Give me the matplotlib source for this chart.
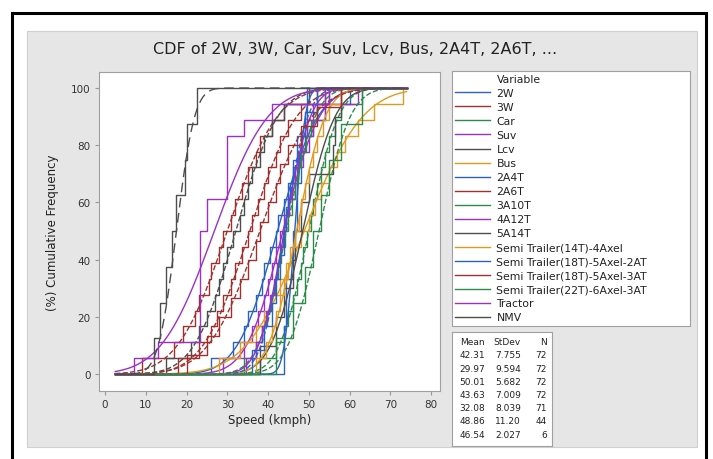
import numpy as np
import matplotlib
matplotlib.use("Agg")
import matplotlib.pyplot as plt
from matplotlib.patches import Rectangle
from math import erf, sqrt

plt.rcParams['font.family'] = ['DejaVu Sans']

variables = ["2W", "3W", "Car", "Suv", "Lcv", "Bus", "2A4T", "2A6T", "3A10T", "4A12T",
             "5A14T", "Semi Trailer(14T)-4Axel", "Semi Trailer(18T)-5Axel-2AT",
             "Semi Trailer(18T)-5Axel-3AT", "Semi Trailer(22T)-6Axel-3AT", "Tractor", "NMV"]
means = [42.31, 29.97, 50.01, 43.63, 32.08, 48.86, 46.54, 35.5, 44.5, 44.0,
         48.5, 47.0, 44.0, 38.0, 52.5, 26.8, 17.5]
stdevs = [7.755, 9.594, 5.682, 7.009, 8.039, 11.20, 2.027, 9.0, 5.5, 5.0,
          6.2, 5.5, 4.5, 10.0, 6.0, 10.3, 3.5]
counts = [72, 72, 72, 72, 71, 44, 6, 30, 40, 30, 10, 20, 12, 15, 8, 18, 8]
n_table_rows = 7  # rows visible in the stats box

# speeds (approximate)
speeds = [
    [26, 31.5, 34, 35, 37, 38.5, 39, 40.5, 42, 42.5, 44, 45.5, 46, 47.5, 49, 51, 54, 60],
    [9, 17, 19, 22, 23, 25.5, 26, 28, 29, 31, 32, 33.5, 35, 37, 38, 41, 44, 52],
    [38, 42, 44, 45, 46, 47, 48, 48.5, 49.5, 50.5, 51, 52, 53, 54, 55, 56.5, 58, 63],
    [29, 34, 36, 37.5, 39, 40, 41, 42, 43, 44, 45, 46.5, 47, 48.5, 50, 51, 54, 62],
    [15, 21, 23, 25, 27, 28, 29, 30, 31.5, 33, 34, 35, 36, 38, 39, 41, 44, 50],
    [28, 33, 37, 39, 41, 43, 44.5, 46, 48, 50, 51.5, 53, 55, 57, 59, 62, 66, 73],
    [44, 44.5, 46, 47, 48, 49.5],
    [18, 23, 26, 27.5, 29, 31, 32, 33.5, 35, 36, 37.5, 39, 40, 42, 43, 45, 48, 54],
    [34, 37, 38.5, 39.7, 40.8, 41.6, 42.5, 43.2, 44.1, 44.9, 45.8, 46.5, 47.4, 48.2, 49.3, 50.5, 52.1, 55],
    [34.5, 37, 38.5, 39.5, 40.5, 41.4, 42.2, 42.9, 43.6, 44.4, 45.1, 45.9, 46.6, 47.4, 48.4, 49.5, 51, 54],
    [38, 42, 44, 46, 46.5, 48, 50, 56, 56.5, 58],
    [37, 39.5, 41, 42, 43, 44, 45, 45.5, 46.5, 47.5, 48, 49, 50, 51, 52, 53.5, 55, 58],
    [36, 39, 41, 42, 43, 44, 44.5, 45, 46, 47, 49, 52],
    [20, 25, 28, 31, 33, 35, 37, 38, 40, 42, 43, 45, 48, 52, 58],
    [42, 46, 49, 51, 53, 55, 58, 63],
    [7, 13, 23.3, 23.3, 23.3, 23.3, 23.3, 23.3, 23.3, 25, 25, 29.8, 30, 30, 30, 34, 41, 55],
    [12, 13.5, 15, 16.5, 17.5, 19.5, 20, 22.5],
]
x_range = [2.5, 74]

palette = ['#2a62c4', '#a0302e', '#2b8c48', '#9b30c8', '#4d4d4d', '#e09a20']
fit_styles = ['-', '--', '--', '-', '--', '-', '-', '--', '--', '-', '-', '-',
              '--', '--', '--', '-', (0, (7, 4))]

W, H = 713, 460
fig = plt.figure(figsize=(W / 100, H / 100), dpi=100)
fig.patch.set_facecolor('white')

# light grey panel and black frame
fig.patches.append(Rectangle((27 / W, 12 / H), 670 / W, 416 / H, transform=fig.transFigure,
                             facecolor='#e6e6e6', edgecolor='#d0d0d0', lw=0.8, zorder=-10))
fig.patches.append(Rectangle((12 / W, -10 / H), 694 / W, 456 / H, transform=fig.transFigure,
                             facecolor='none', edgecolor='black', lw=2.2, zorder=-9))

ax = fig.add_axes([99 / W, 68 / H, 341 / W, 319 / H])
ax.set_facecolor('white')

xs_fit = np.linspace(x_range[0], x_range[1], 300)
handles = []
for i, name in enumerate(variables):
    col = palette[i % 6]
    v = np.sort(np.array(speeds[i], dtype=float))
    n = len(v)
    sx = np.concatenate([[x_range[0]], v, [x_range[1]]])
    sy = np.concatenate([[0], np.arange(1, n + 1) / n * 100, [100]])
    h, = ax.step(sx, sy, where='post', color=col, lw=1.0, label=name)
    fy = [50 * (1 + erf((x - means[i]) / (stdevs[i] * sqrt(2)))) for x in xs_fit]
    ax.plot(xs_fit, fy, color=col, lw=1.0, ls=fit_styles[i])
    handles.append(h)

ax.set_xlim(-1.5, 82.2)
ax.set_ylim(-5.9, 105.6)
ax.set_xticks(np.arange(0, 81, 10))
ax.set_yticks(np.arange(0, 101, 20))
ax.tick_params(direction='out', length=3, color='#999999', labelsize=7.5, labelcolor='#333333', pad=3)
for s in ax.spines.values():
    s.set_color('#a0a0a0')
    s.set_linewidth(0.8)
ax.set_xlabel("Speed (kmph)", fontsize=8.5, color='#222222', labelpad=3)
ax.set_ylabel("(%) Cumulative Frequency", fontsize=8.5, color='#222222', labelpad=9)

fig.text(355 / W, (H - 50) / H, "CDF of 2W, 3W, Car, Suv, Lcv, Bus, 2A4T, 2A6T, ...",
         ha='center', va='center', fontsize=11.5, color='#222222')

title_h = plt.Line2D([], [], color='none')
leg = fig.legend([title_h] + handles, ["Variable"] + variables, loc='upper left',
                 bbox_to_anchor=(452 / W, (H - 328) / H, 238 / W, 256 / H), mode='expand',
                 fontsize=7.8, frameon=True, fancybox=False, edgecolor='#a0a0a0',
                 facecolor='white', framealpha=1, handlelength=3.2, handletextpad=0.6,
                 labelspacing=0.37, borderpad=0.3, borderaxespad=0)
leg.get_frame().set_linewidth(0.8)
for t in leg.get_texts():
    t.set_color('#222222')

# statistics table
tab = fig.add_axes([452 / W, 13 / H, 100 / W, 114 / H])
tab.set_xlim(0, 100)
tab.set_ylim(114, 0)
tab.set_xticks([])
tab.set_yticks([])
tab.set_facecolor('white')
for s in tab.spines.values():
    s.set_color('#a0a0a0')
    s.set_linewidth(0.8)
for x, lab in zip([33, 69, 95], ["Mean", "StDev", "N"]):
    tab.text(x, 10, lab, ha='right', va='center', fontsize=6.5, color='#222222')
for i in range(n_table_rows):
    y = 23 + 13.2 * i
    sd = f"{stdevs[i]:.3f}" if stdevs[i] < 10 else f"{stdevs[i]:.2f}"
    tab.text(33, y, f"{means[i]:.2f}", ha='right', va='center', fontsize=6.5, color='#222222')
    tab.text(69, y, sd, ha='right', va='center', fontsize=6.5, color='#222222')
    tab.text(95, y, str(counts[i]), ha='right', va='center', fontsize=6.5, color='#222222')

fig.savefig("out.png", dpi=100)
